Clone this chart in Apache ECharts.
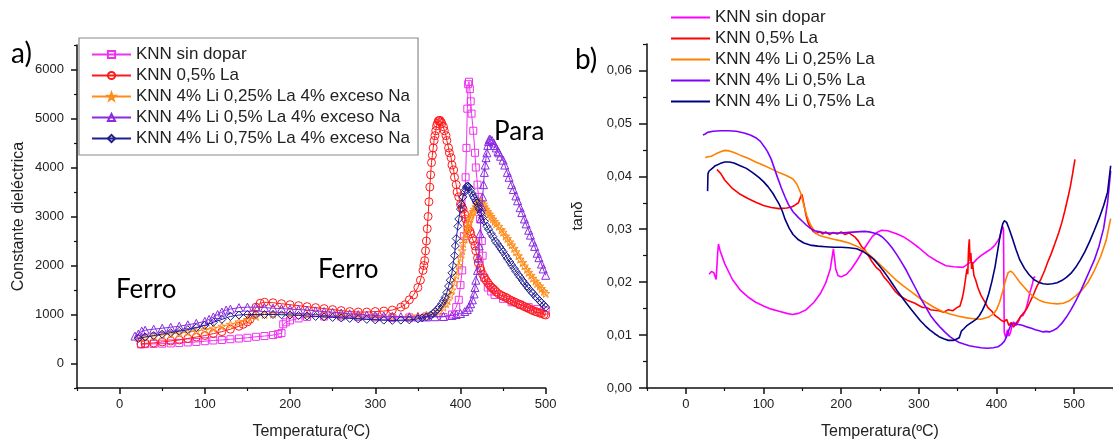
<!DOCTYPE html>
<html><head><meta charset="utf-8">
<script src="https://cdn.jsdelivr.net/npm/echarts@6/dist/echarts.min.js"></script>
<style>html,body{margin:0;padding:0;background:#fff}#c{width:1113px;height:445px}</style>
</head><body><div id="c"></div>
<script>
// ---------- Panel a) : dielectric constant vs temperature ----------
const namesA = ['KNN sin dopar','KNN 0,5% La','KNN 4% Li 0,25% La 4% exceso Na','KNN 4% Li 0,5% La 4% exceso Na','KNN 4% Li 0,75% La 4% exceso Na'];
const epsSinDopar = [[25,390],[30,395],[40,400],[50,405],[60,410],[70,420],[80,430],[90,440],[100,455],[110,470],[120,480],[130,495],[140,510],[150,525],[160,545],[170,560],[180,580],[186,600],[190,620],[192,800],[195,840],[200,880],[210,920],[220,950],[240,960],[260,960],[280,950],[300,940],[320,930],[340,940],[360,960],[380,950],[390,1000],[395,1150],[398,1300],[400,1600],[402,1900],[404,2600],[406,3800],[407,4400],[408,5200],[409,5700],[410,5750],[411,5600],[412,5350],[413,5100],[415,4750],[417,4300],[418,4000],[420,3650],[421,3400],[423,2950],[425,2500],[426,2200],[428,1750],[432,1550],[436,1470],[440,1400],[450,1320],[460,1250],[470,1200],[480,1150],[490,1110],[500,1080]];
const eps05La = [[25,400],[30,410],[40,420],[50,440],[60,460],[70,480],[80,510],[90,540],[100,570],[110,610],[120,650],[130,700],[140,760],[145,800],[150,850],[153,900],[156,1000],[160,1150],[165,1230],[170,1250],[180,1240],[190,1220],[200,1200],[210,1180],[220,1160],[230,1140],[240,1120],[250,1100],[260,1080],[270,1060],[280,1050],[290,1050],[300,1060],[310,1070],[320,1090],[330,1150],[335,1200],[340,1300],[345,1400],[350,1550],[353,1700],[356,1900],[357,2000],[358,2100],[359,2300],[360,2500],[361,2750],[362,3000],[363,3300],[364,3600],[365,3850],[366,4100],[367,4250],[368,4400],[369,4550],[370,4650],[371,4750],[372,4850],[373,4900],[374,4950],[375,4960],[376,4960],[377,4930],[378,4900],[380,4830],[381,4750],[383,4650],[384,4550],[386,4400],[387,4300],[389,4200],[390,4050],[392,3950],[393,3800],[395,3650],[396,3500],[398,3400],[400,3250],[402,3180],[403,3150],[405,3050],[406,2950],[408,2850],[409,2750],[411,2700],[412,2650],[414,2550],[415,2500],[417,2400],[418,2300],[420,2150],[421,2050],[423,1950],[424,1900],[426,1820],[428,1750],[430,1700],[432,1650],[434,1600],[436,1560],[438,1530],[440,1500],[442,1460],[445,1420],[448,1390],[450,1370],[453,1350],[455,1330],[458,1300],[460,1280],[463,1260],[465,1240],[468,1220],[470,1200],[473,1180],[475,1160],[478,1140],[480,1120],[483,1100],[485,1080],[488,1060],[490,1050],[493,1030],[495,1020],[498,1000],[500,990]];
const eps025La = [[22,520],[30,540],[40,560],[50,580],[60,600],[70,620],[80,640],[90,660],[100,690],[110,720],[120,760],[130,800],[140,850],[150,900],[160,960],[170,1000],[180,1010],[200,1010],[220,1000],[240,990],[260,980],[280,970],[300,960],[320,960],[340,960],[350,970],[360,990],[370,1020],[375,1060],[380,1150],[383,1220],[385,1280],[388,1400],[390,1500],[393,1650],[395,1800],[398,2000],[400,2150],[402,2300],[403,2450],[405,2550],[406,2650],[408,2750],[409,2800],[410,2880],[411,2950],[412,3000],[413,3050],[415,3100],[416,3150],[418,3200],[419,3250],[421,3280],[422,3300],[424,3300],[425,3280],[427,3250],[428,3200],[430,3150],[432,3100],[434,3050],[436,3000],[438,2950],[440,2900],[442,2850],[445,2800],[448,2730],[450,2680],[453,2600],[455,2550],[458,2480],[460,2420],[463,2350],[465,2280],[468,2200],[470,2130],[473,2060],[475,1990],[478,1920],[480,1860],[483,1800],[485,1740],[488,1680],[490,1630],[493,1580],[495,1530],[498,1470],[500,1430]];
const eps05LaLi = [[18,560],[22,600],[26,660],[30,680],[40,700],[50,720],[60,740],[70,760],[80,790],[90,820],[100,860],[105,900],[110,950],[115,1000],[120,1050],[125,1090],[130,1110],[140,1140],[150,1150],[160,1150],[170,1140],[180,1130],[190,1120],[200,1110],[210,1100],[220,1090],[230,1075],[240,1060],[250,1045],[260,1030],[270,1015],[280,1000],[290,990],[300,980],[310,970],[320,960],[330,955],[340,950],[350,950],[360,950],[370,955],[380,960],[390,980],[395,1000],[400,1020],[405,1060],[408,1100],[410,1150],[412,1220],[414,1300],[416,1420],[417,1550],[418,1700],[420,1900],[421,2150],[422,2400],[423,2650],[424,2950],[425,3200],[426,3400],[427,3650],[428,3900],[429,4050],[430,4200],[431,4300],[432,4450],[433,4530],[434,4580],[435,4570],[437,4550],[439,4500],[440,4450],[442,4400],[444,4330],[445,4300],[447,4230],[450,4150],[452,4050],[455,3900],[457,3800],[460,3650],[462,3550],[465,3420],[467,3320],[470,3180],[472,3080],[475,2950],[477,2850],[480,2720],[482,2620],[485,2480],[487,2390],[490,2250],[492,2160],[495,2030],[497,1930],[500,1800]];
const eps075La = [[22,510],[30,540],[40,570],[50,600],[60,630],[70,660],[80,690],[90,730],[100,780],[110,840],[120,900],[130,960],[140,990],[150,1000],[160,1000],[170,1000],[180,1000],[190,995],[200,990],[210,980],[220,970],[230,960],[240,950],[250,940],[260,930],[270,920],[280,910],[290,900],[300,890],[310,885],[320,880],[330,885],[340,890],[350,910],[355,930],[360,950],[365,990],[368,1020],[370,1060],[373,1100],[375,1150],[378,1220],[380,1280],[382,1350],[384,1450],[386,1580],[388,1700],[390,1850],[391,2000],[393,2200],[394,2400],[395,2550],[397,2800],[398,2950],[400,3150],[401,3250],[403,3400],[405,3500],[406,3550],[407,3600],[408,3620],[409,3620],[410,3600],[412,3550],[413,3480],[415,3420],[416,3380],[418,3320],[419,3280],[421,3200],[422,3150],[424,3070],[426,2980],[428,2900],[431,2800],[433,2740],[436,2650],[438,2590],[441,2500],[443,2450],[446,2380],[448,2330],[450,2280],[453,2200],[455,2140],[458,2070],[460,2010],[463,1940],[465,1880],[468,1810],[470,1760],[473,1690],[475,1640],[478,1580],[480,1530],[483,1470],[485,1430],[488,1370],[490,1330],[493,1280],[495,1240],[498,1190],[500,1150]];

// ---------- Panel b) : tan delta vs temperature ----------
const namesB = ['KNN sin dopar','KNN 0,5% La','KNN 4% Li 0,25% La','KNN 4% Li 0,5% La','KNN 4% Li 0,75% La'];
const tanSinDopar = [[30,0.0215],[33,0.022],[36,0.0218],[39,0.0205],[41,0.0255],[42,0.0272],[44,0.026],[50,0.0235],[60,0.0205],[70,0.0185],[80,0.0172],[90,0.0162],[100,0.0155],[110,0.0149],[120,0.0145],[130,0.0141],[137,0.0139],[145,0.0141],[155,0.0148],[165,0.0162],[173,0.0178],[180,0.0198],[186,0.0225],[190,0.0263],[193,0.0225],[196,0.0212],[200,0.021],[207,0.0215],[213,0.0225],[220,0.024],[227,0.0257],[234,0.0273],[240,0.0286],[246,0.0294],[252,0.0298],[260,0.0297],[272,0.0291],[280,0.0286],[290,0.0276],[300,0.0265],[312,0.025],[323,0.024],[335,0.0231],[345,0.0229],[357,0.0228],[362,0.0233],[366,0.0238],[370,0.0236],[375,0.0244],[380,0.025],[386,0.0256],[393,0.0263],[398,0.027],[402,0.0279],[404,0.0284],[406,0.0295],[408,0.0305],[409,0.03],[410,0.0105],[412,0.0095],[414,0.011],[416,0.0098],[418,0.0105],[420,0.0118],[422,0.0125],[425,0.0118],[428,0.0125],[431,0.0135],[434,0.0137],[437,0.0145],[440,0.016],[443,0.0181],[446,0.0195],[448,0.0209],[450,0.021]];
const tan05La = [[40,0.0413],[45,0.0405],[50,0.0393],[55,0.0385],[60,0.0377],[70,0.0366],[80,0.0358],[90,0.0351],[100,0.0345],[110,0.0341],[120,0.0339],[130,0.034],[136,0.0342],[140,0.0345],[145,0.035],[148,0.0362],[149.5,0.0366],[151,0.0355],[153,0.034],[155,0.0325],[158,0.031],[161,0.0302],[164,0.0296],[168,0.0292],[172,0.0296],[176,0.0291],[180,0.0295],[185,0.029],[190,0.0294],[195,0.0291],[200,0.0295],[205,0.029],[210,0.0293],[215,0.0288],[218,0.0285],[222,0.0278],[226,0.0268],[231,0.026],[235,0.025],[240,0.0238],[245,0.0228],[250,0.0222],[255,0.021],[258,0.0205],[262,0.0198],[266,0.019],[270,0.0182],[275,0.0175],[280,0.017],[285,0.0166],[290,0.0163],[295,0.016],[300,0.0156],[305,0.0152],[310,0.0152],[315,0.0148],[320,0.0147],[326,0.0146],[332,0.0143],[338,0.0148],[344,0.0146],[348,0.0151],[353,0.0155],[356,0.017],[358,0.0185],[360,0.0205],[362,0.0225],[363,0.0215],[364,0.0262],[365,0.0281],[366,0.024],[367,0.0255],[368,0.0225],[369,0.0238],[371,0.0212],[373,0.0205],[376,0.019],[380,0.0175],[384,0.0165],[389,0.0152],[394,0.0145],[398,0.0137],[402,0.0133],[406,0.0128],[410,0.0125],[413,0.013],[416,0.0118],[419,0.0124],[422,0.0115],[425,0.0122],[428,0.0128],[431,0.0135],[435,0.0142],[439,0.015],[443,0.0162],[448,0.0178],[452,0.0192],[457,0.0205],[462,0.0222],[466,0.0238],[470,0.0252],[475,0.0272],[480,0.0293],[484,0.0312],[488,0.0335],[492,0.036],[495,0.038],[498,0.0405],[501,0.0432]];
const tan025La = [[25,0.0435],[28,0.0437],[33,0.0438],[38,0.0442],[44,0.0446],[50,0.0449],[56,0.0448],[62,0.0445],[70,0.044],[80,0.0434],[90,0.0427],[100,0.0421],[110,0.0414],[120,0.0407],[130,0.0401],[138,0.0395],[143,0.0385],[148,0.0368],[152,0.0345],[156,0.0325],[160,0.031],[166,0.0295],[172,0.0288],[180,0.0285],[190,0.0281],[200,0.0278],[210,0.0274],[220,0.0268],[230,0.026],[240,0.0247],[250,0.0233],[260,0.0219],[270,0.0205],[280,0.0193],[290,0.0182],[300,0.0171],[310,0.0161],[320,0.0152],[330,0.0145],[340,0.014],[350,0.0136],[360,0.0133],[370,0.0131],[380,0.013],[390,0.0134],[396,0.014],[400,0.0148],[404,0.0162],[408,0.0183],[412,0.0205],[415,0.0218],[418,0.0221],[421,0.0218],[425,0.021],[430,0.02],[436,0.019],[442,0.018],[448,0.0172],[455,0.0166],[462,0.0162],[470,0.016],[478,0.0159],[486,0.016],[494,0.0165],[502,0.0174],[510,0.0185],[518,0.02],[526,0.0222],[534,0.0248],[541,0.0278],[547,0.032]];
const tan05LaLi = [[22,0.0478],[25,0.048],[28,0.0483],[35,0.0485],[45,0.0486],[55,0.0486],[65,0.0485],[75,0.0482],[83,0.0478],[90,0.0473],[96,0.0466],[101,0.0456],[105,0.0447],[110,0.0432],[114,0.0415],[118,0.0398],[123,0.0378],[128,0.036],[132,0.0347],[138,0.0333],[145,0.0322],[150,0.0315],[155,0.0308],[160,0.0302],[166,0.0297],[172,0.0295],[180,0.0293],[190,0.0293],[200,0.0293],[210,0.0294],[220,0.0295],[230,0.0296],[236,0.0295],[242,0.0293],[248,0.029],[254,0.0284],[260,0.0275],[266,0.0264],[272,0.0251],[278,0.0237],[284,0.0222],[290,0.0205],[296,0.0188],[303,0.0168],[310,0.015],[316,0.0135],[322,0.0124],[328,0.0114],[334,0.0105],[340,0.0097],[346,0.0091],[352,0.0086],[358,0.0083],[365,0.008],[372,0.0078],[380,0.0076],[388,0.0075],[396,0.0076],[402,0.0078],[406,0.0082],[410,0.0088],[413,0.0097],[416,0.011],[419,0.0121],[421,0.0124],[424,0.0122],[428,0.012],[432,0.0119],[436,0.0117],[440,0.0115],[445,0.0113],[450,0.011],[455,0.0108],[460,0.0106],[464,0.0107],[468,0.0106],[472,0.0108],[478,0.0113],[484,0.0122],[490,0.0134],[496,0.0148],[502,0.0164],[508,0.0182],[514,0.0202],[520,0.0222],[526,0.0242],[532,0.0268],[538,0.0302],[543,0.035],[547,0.041]];
const tan075La = [[28,0.0372],[28.5,0.0405],[30,0.041],[34,0.0415],[38,0.042],[44,0.0424],[50,0.0427],[56,0.0427],[62,0.0425],[70,0.042],[78,0.0415],[86,0.0407],[94,0.0398],[100,0.039],[106,0.038],[112,0.0368],[116,0.0358],[120,0.0348],[124,0.0335],[128,0.0318],[133,0.0302],[138,0.029],[145,0.028],[152,0.0274],[160,0.027],[170,0.0268],[180,0.0267],[190,0.0266],[200,0.0266],[210,0.0265],[220,0.0263],[228,0.0258],[236,0.025],[242,0.0243],[248,0.0233],[254,0.0222],[260,0.021],[266,0.0197],[272,0.0184],[278,0.0172],[284,0.016],[290,0.0149],[296,0.0138],[302,0.0127],[308,0.0118],[314,0.011],[320,0.0103],[326,0.0097],[332,0.0093],[338,0.009],[344,0.009],[348,0.0092],[352,0.0095],[355,0.0108],[358,0.0112],[362,0.0118],[366,0.0122],[370,0.0126],[374,0.013],[378,0.0137],[382,0.0147],[386,0.016],[390,0.0178],[394,0.0201],[398,0.0228],[401,0.0255],[404,0.0282],[406,0.0298],[408,0.031],[410,0.0316],[413,0.0313],[416,0.0302],[420,0.0285],[425,0.0262],[430,0.0242],[436,0.0226],[442,0.0214],[448,0.0205],[454,0.02],[460,0.0197],[466,0.0196],[472,0.0197],[478,0.0199],[484,0.0203],[490,0.0209],[496,0.0217],[502,0.0228],[508,0.0242],[514,0.0258],[520,0.0277],[526,0.0298],[532,0.032],[538,0.0345],[543,0.037],[547,0.042]];

// tick labels
const ticksA_x = [0,100,200,300,400,500];
const ticksA_y = [0,1000,2000,3000,4000,5000,6000];
const minorA_x = [-50,50,150,250,350,450];
const minorA_y = [-500,500,1500,2500,3500,4500,5500,6500];
const ticksB_x = [0,100,200,300,400,500];
const ticksB_y = [0,0.01,0.02,0.03,0.04,0.05,0.06];
const minorB_x = [-50,50,150,250,350,450,550];
const minorB_y = [0.005,0.015,0.025,0.035,0.045,0.055,0.065];

const colorsA = ['#ee33ee','#ff1a1a','#ff8c1a','#8a2be2','#1f1f8f'];
const colorsB = ['#ff00ff','#ff0000','#ff8000','#8000ff','#000080'];
const star = 'path://M12,0L14.9,8.3L23.4,8.3L16.5,13.4L19.1,21.7L12,16.6L4.9,21.7L7.5,13.4L0.6,8.3L9.1,8.3Z';
const symbolsA = ['rect','circle',star,'triangle','diamond'];
const sizesA = [7,8,8,8,8];
const dataA = [epsSinDopar, eps05La, eps025La, eps05LaLi, eps075La];
const dataB = [tanSinDopar, tan05La, tan025La, tan05LaLi, tan075La];

const FONT = 'Liberation Sans, Arial, sans-serif';
const axisLine = {show:true, onZero:false, lineStyle:{color:'#111', width:1.5}};

function mainX(grid, min, max, ticks, nameText){
  return {type:'value', gridIndex:grid, min, max, interval:50, position:'bottom',
    axisLine, splitLine:{show:false},
    axisTick:{show:true, length:6, customValues:ticks, lineStyle:{color:'#111', width:1.5}},
    axisLabel:{customValues:ticks, color:'#222', fontSize:13, fontFamily:FONT, margin:10, formatter:v=>String(v)},
    name:nameText, nameLocation:'middle', nameGap:36,
    nameTextStyle:{fontSize:16, fontFamily:FONT, color:'#222'}};
}
function minorX(grid, min, max, ticks){
  return {type:'value', gridIndex:grid, min, max, interval:50, position:'bottom',
    axisLine:{show:false, onZero:false}, splitLine:{show:false}, axisLabel:{show:false},
    axisTick:{show:true, length:3, customValues:ticks, lineStyle:{color:'#111', width:1.2}}};
}
const option = {
  animation:false,
  backgroundColor:'#fff',
  textStyle:{fontFamily:FONT},
  grid:[
    {left:77, top:45, width:468.7, height:346},
    {left:647, top:44, width:468.6, height:347}
  ],
  xAxis:[
    mainX(0,-50,500,ticksA_x,'Temperatura(ºC)'),
    minorX(0,-50,500,minorA_x),
    mainX(1,-50,550,ticksB_x,'Temperatura(ºC)'),
    minorX(1,-50,550,minorB_x)
  ],
  yAxis:[
    {type:'value', gridIndex:0, position:'left', min:-500, max:6500, interval:500, axisLine, splitLine:{show:false},
     axisTick:{show:true, length:6, customValues:ticksA_y, lineStyle:{color:'#111', width:1.5}},
     axisLabel:{customValues:ticksA_y, color:'#222', fontSize:13, fontFamily:FONT, margin:13, formatter:v=>String(v)},
     name:'Constante dieléctrica', nameLocation:'middle', nameGap:50,
     nameTextStyle:{fontSize:16, fontFamily:FONT, color:'#222'}},
    {type:'value', gridIndex:0, position:'left', min:-500, max:6500, interval:500, axisLine:{show:false, onZero:false}, splitLine:{show:false},
     axisLabel:{show:false}, axisTick:{show:true, length:3, customValues:minorA_y, lineStyle:{color:'#111', width:1.2}}},
    {type:'value', gridIndex:1, position:'left', min:0, max:0.065, interval:0.005, axisLine, splitLine:{show:false},
     axisTick:{show:true, length:8, customValues:ticksB_y, lineStyle:{color:'#111', width:1.5}},
     axisLabel:{customValues:ticksB_y, color:'#222', fontSize:13, fontFamily:FONT, margin:15,
       formatter:v=>v.toFixed(2).replace('.',',')},
     name:'tanδ', nameLocation:'middle', nameGap:62,
     nameTextStyle:{fontSize:15, fontFamily:FONT, color:'#222'}},
    {type:'value', gridIndex:1, position:'left', min:0, max:0.065, interval:0.005, axisLine:{show:false, onZero:false}, splitLine:{show:false},
     axisLabel:{show:false}, axisTick:{show:true, length:4, customValues:minorB_y, lineStyle:{color:'#111', width:1.2}}}
  ],
  legend:[
    {data:namesA, orient:'vertical', left:79, top:38, itemWidth:39, itemHeight:9, itemGap:4,
     padding:[8,8,8,12], borderColor:'#8a8a8a', borderWidth:1.2, backgroundColor:'#fff',
     textStyle:{fontSize:17, fontFamily:FONT, color:'#222'}, selectedMode:false},
    {data:namesB.map(n=>'b:'+n), formatter:n=>n.slice(2), orient:'vertical', left:671, top:9,
     icon:'rect', itemWidth:39, itemHeight:2, itemGap:4, padding:0,
     textStyle:{fontSize:17, fontFamily:FONT, color:'#222'}, selectedMode:false}
  ],
  series:[],
  graphic:[
    {type:'text', x:11, y:54, style:{text:'a)', fontSize:28, fontFamily:'Lato', fill:'#000', verticalAlign:'middle'}},
    {type:'text', x:575, y:60, style:{text:'b)', fontSize:28, fontFamily:'Lato', fill:'#000', verticalAlign:'middle'}},
    {type:'text', x:116, y:290, style:{text:'Ferro', fontSize:26, fontFamily:'Lato', fill:'#000', verticalAlign:'middle'}},
    {type:'text', x:318, y:270, style:{text:'Ferro', fontSize:26, fontFamily:'Lato', fill:'#000', verticalAlign:'middle'}},
    {type:'text', x:494, y:132, style:{text:'Para', fontSize:26, fontFamily:'Lato', fill:'#000', verticalAlign:'middle'}}
  ]
};
dataA.forEach((d,i)=>{
  option.series.push({type:'line', name:namesA[i], xAxisIndex:0, yAxisIndex:0, data:d,
    symbol:symbolsA[i], symbolSize:sizesA[i], showAllSymbol:true,
    lineStyle:{color:colorsA[i], width:1},
    itemStyle:{color:'rgba(255,255,255,0)', borderColor:colorsA[i], borderWidth:1},
    z:2+i});
});
dataB.forEach((d,i)=>{
  option.series.push({type:'line', name:'b:'+namesB[i], xAxisIndex:2, yAxisIndex:2, data:d,
    symbol:'none', lineStyle:{color:colorsB[i], width:1.6}, itemStyle:{color:colorsB[i]}, z:2+i});
});
const chart = echarts.init(document.getElementById('c'), null, {renderer:'canvas'});
chart.setOption(option);
</script></body></html>
